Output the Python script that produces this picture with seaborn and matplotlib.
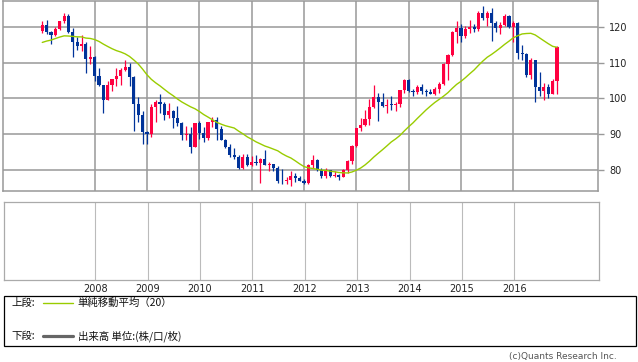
import numpy as np
import pandas as pd
import matplotlib
matplotlib.use("Agg")
import matplotlib.pyplot as plt
import seaborn as sns
from matplotlib.patches import Rectangle
from matplotlib.lines import Line2D

# ---------------- data (USD/JPY monthly, Jan 2007 - Nov 2016) ----------------
start_month = "2007-01"
opens = [
    119.0, 120.7, 118.6, 117.8, 119.4, 121.7, 123.2, 118.7, 115.8, 114.8, 115.3, 111.2,
    111.7, 106.4, 103.7, 99.7, 103.9, 105.5, 106.2, 107.9, 108.8, 106.1, 98.5, 95.5,
    90.6, 89.9, 97.6, 98.9, 98.5, 95.3, 96.4, 94.6, 93.0, 89.8, 90.0, 86.3,
    93.0, 90.3, 88.9, 93.5, 94.0, 91.3, 88.4, 86.5, 84.2, 83.5, 80.4, 83.6,
    81.2, 82.1, 81.8, 83.1, 81.2, 81.5, 80.5, 76.8, 76.7, 77.1, 78.1, 77.6,
    76.9, 76.2, 81.2, 82.8, 80.0, 78.3, 79.8, 78.1, 78.4, 77.9, 79.8, 82.5,
    86.7, 91.7, 92.6, 94.2, 97.5, 100.5, 99.1, 97.9, 98.3, 98.2, 98.4, 102.4,
    105.3, 102.0, 101.8, 103.2, 102.2, 101.8, 101.3, 102.8, 104.0, 109.6, 112.3, 118.6,
    119.8, 117.5, 119.6, 120.1, 119.4, 124.1, 122.5, 123.9, 121.2, 119.9, 120.6, 123.1,
    120.2, 121.1, 112.7, 112.6, 106.5, 110.7, 103.2, 102.1, 103.3, 101.3, 104.8,
]
highs = [
    121.8, 122.2, 118.9, 120.0, 121.9, 124.1, 123.7, 119.8, 117.2, 117.9, 115.9, 114.7,
    112.0, 108.6, 103.9, 105.0, 105.6, 108.6, 108.6, 110.7, 109.9, 106.2, 100.5, 96.4,
    91.0, 98.5, 99.6, 101.4, 99.1, 98.8, 96.9, 97.8, 93.3, 92.3, 92.0, 93.1,
    93.7, 92.1, 93.5, 94.9, 94.9, 92.3, 88.6, 87.1, 86.0, 84.1, 84.4, 84.5,
    83.7, 84.0, 83.3, 85.5, 82.2, 81.7, 81.0, 80.2, 77.9, 79.5, 79.0, 78.3,
    77.4, 81.6, 84.2, 83.0, 80.5, 80.6, 80.0, 79.7, 78.9, 80.3, 82.8, 86.8,
    91.8, 94.4, 96.7, 99.9, 103.7, 101.5, 101.5, 99.9, 100.6, 99.0, 102.5, 105.4,
    105.4, 102.8, 103.8, 104.1, 102.7, 102.8, 103.1, 104.5, 110.1, 112.4, 118.9, 121.9,
    121.0, 120.5, 122.0, 120.8, 124.5, 125.9, 124.6, 125.3, 121.7, 121.5, 123.8, 123.6,
    121.7, 121.5, 114.9, 112.9, 111.4, 110.8, 107.5, 104.3, 104.2, 105.5, 114.8,
]
lows = [
    118.5, 118.0, 115.2, 117.6, 119.2, 121.1, 118.4, 111.6, 113.7, 113.4, 107.2, 109.8,
    104.9, 103.6, 95.8, 99.7, 102.0, 103.6, 103.8, 107.7, 103.5, 90.9, 93.5, 87.1,
    87.1, 89.3, 93.5, 95.9, 93.9, 94.4, 91.7, 92.3, 88.2, 88.2, 84.8, 86.3,
    88.6, 87.9, 88.4, 92.1, 88.3, 88.2, 86.0, 83.5, 82.9, 80.2, 80.3, 80.9,
    81.0, 81.4, 76.3, 81.2, 79.6, 79.7, 76.3, 75.9, 75.9, 75.3, 76.6, 76.7,
    76.0, 76.1, 80.6, 79.6, 77.7, 77.6, 77.9, 77.9, 77.1, 77.8, 79.1, 81.7,
    86.5, 90.9, 92.4, 92.6, 97.3, 93.8, 97.6, 95.8, 96.9, 96.6, 97.6, 101.6,
    101.8, 100.8, 101.2, 101.4, 100.8, 101.2, 101.1, 101.5, 103.8, 105.2, 111.9, 115.6,
    115.9, 116.9, 118.3, 118.6, 118.9, 122.1, 120.4, 116.2, 118.7, 118.1, 120.5, 119.9,
    115.9, 111.0, 110.7, 106.1, 105.5, 99.0, 100.7, 99.5, 100.1, 101.2, 101.2,
]
closes = [
    120.7, 118.6, 117.8, 119.4, 121.7, 123.2, 118.7, 115.8, 114.8, 115.3, 111.2, 111.7,
    106.4, 103.7, 99.7, 103.9, 105.5, 106.2, 107.9, 108.8, 106.1, 98.5, 95.5, 90.6,
    89.9, 97.6, 98.9, 98.5, 95.3, 96.4, 94.6, 93.0, 89.8, 90.0, 86.3, 93.0,
    90.3, 88.9, 93.5, 94.0, 91.3, 88.4, 86.5, 84.2, 83.5, 80.4, 83.6, 81.2,
    82.1, 81.8, 83.1, 81.2, 81.5, 80.5, 76.8, 76.7, 77.1, 78.1, 77.6, 76.9,
    76.2, 81.2, 82.8, 80.0, 78.3, 79.8, 78.1, 78.4, 77.9, 79.8, 82.5, 86.7,
    91.7, 92.6, 94.2, 97.5, 100.5, 99.1, 97.9, 98.3, 98.2, 98.4, 102.4, 105.3,
    102.0, 101.8, 103.2, 102.2, 101.8, 101.3, 102.8, 104.0, 109.6, 112.3, 118.6, 119.8,
    117.5, 119.6, 120.1, 119.4, 124.1, 122.5, 123.9, 121.2, 119.9, 120.6, 123.1, 120.2,
    121.1, 112.7, 112.6, 106.5, 110.7, 103.2, 102.1, 103.3, 101.3, 104.8, 114.5,
]
# closes before the visible range (Jun 2005 - Dec 2006), used only to warm up the 20-month average
prior_closes = [110.9, 112.5, 110.6, 113.3, 116.4, 119.7, 117.9,
                117.2, 115.8, 117.7, 113.8, 112.5, 114.4, 114.6, 117.3, 118.1, 116.9, 115.8, 119.0]
ma_window = 20
y_ticks = [80, 90, 100, 110, 120]
year_labels = ["2008", "2009", "2010", "2011", "2012", "2013", "2014", "2015", "2016"]

# ---------------- styling ----------------
UP = "#FF0040"
DOWN = "#003399"
MA_COL = "#99CC00"
GRID = "#999999"

sns.set_style("white")
plt.rcParams['font.family'] = ['DejaVu Sans']

months = pd.date_range(start_month, periods=len(closes), freq="MS")
df = pd.DataFrame({"date": months, "open": opens, "high": highs, "low": lows, "close": closes})
df["pos"] = np.arange(len(df))
all_close = pd.Series(prior_closes + closes)
df["ma"] = all_close.rolling(ma_window).mean().iloc[len(prior_closes):].to_numpy()

W, H = 638, 362
fig = plt.figure(figsize=(W / 100, H / 100), dpi=100)

def fx(px):
    return px / W

def fy(py):
    return 1 - py / H

ax = fig.add_axes([fx(3), fy(191), fx(598) - fx(3), fy(1) - fy(191)])
ax2 = fig.add_axes([fx(3.5), fy(280), fx(599) - fx(3.5), fy(202) - fy(280)])

year_pos = [int(df.index[(df.date.dt.year == int(y)) & (df.date.dt.month == 1)][0]) for y in year_labels]

# upper panel
xlim = (-9.0, 127.4)
ax.set_xlim(*xlim)
ax.set_ylim(74.0, 127.4)
for x in year_pos:
    ax.axvline(x, color=GRID, lw=1.1, zorder=0)
for yv in y_ticks:
    ax.axhline(yv, color=GRID, lw=1.1, zorder=0)

up = df.close >= df.open
colors = np.where(up, UP, DOWN)
ax.vlines(df.pos, df.low, df.high, colors=colors, lw=0.9, zorder=2)
body = (df.close - df.open).abs().clip(lower=0.25)
ax.bar(df.pos, body, bottom=np.minimum(df.open, df.close), width=0.72,
       color=colors, linewidth=0, zorder=3)
sns.lineplot(data=df, x="pos", y="ma", ax=ax, color=MA_COL, lw=1.0, zorder=4, legend=False)

ax.set_xlabel("")
ax.set_ylabel("")
ax.set_xticks([])
ax.yaxis.tick_right()
ax.set_yticks(y_ticks)
ax.set_yticklabels([str(v) for v in y_ticks])
ax.tick_params(axis="y", right=True, length=4, width=1.0, color=GRID, pad=4.2,
               labelsize=7, labelcolor="#222222")
for s in ax.spines.values():
    s.set_color(GRID)
    s.set_linewidth(1.1)

# lower panel (volume, empty)
ax2.set_xlim(*xlim)
ax2.set_ylim(0, 1)
for x in year_pos:
    ax2.axvline(x, color="#BBBBBB", lw=0.8, zorder=0)
ax2.set_yticks([])
ax2.set_xticks(year_pos)
ax2.set_xticklabels(year_labels)
ax2.tick_params(axis="x", length=0, pad=3, labelsize=7, labelcolor="#222222")
for s in ax2.spines.values():
    s.set_color("#AAAAAA")
    s.set_linewidth(0.9)

# legend box
jp = ['Noto Sans CJK JP', 'DejaVu Sans']
fig.add_artist(Rectangle((fx(3.5), fy(346)), fx(635.5) - fx(3.5), fy(296) - fy(346),
                         transform=fig.transFigure, fill=False, ec="black", lw=0.9))
fig.text(fx(11.5), fy(303), "上段:", family=jp, fontsize=7.5, va="center", ha="left", color="#111111")
fig.add_artist(Line2D([fx(43), fx(73)], [fy(303), fy(303)], transform=fig.transFigure,
                      color=MA_COL, lw=1.0))
fig.text(fx(77.5), fy(303), "単純移動平均（20）", family=jp, fontsize=7.5, va="center", ha="left", color="#111111")
fig.text(fx(11.5), fy(336), "下段:", family=jp, fontsize=7.5, va="center", ha="left", color="#111111")
fig.add_artist(Line2D([fx(43), fx(73)], [fy(336), fy(336)], transform=fig.transFigure,
                      color="#666666", lw=2.3))
fig.text(fx(77.5), fy(336), "出来高 単位:(株/口/枚)", family=jp, fontsize=7.5, va="center", ha="left", color="#111111")
fig.text(fx(617), fy(356.5), "(c)Quants Research Inc.", fontsize=6.5, va="center", ha="right", color="#555555")

fig.savefig("out.png", dpi=100)
